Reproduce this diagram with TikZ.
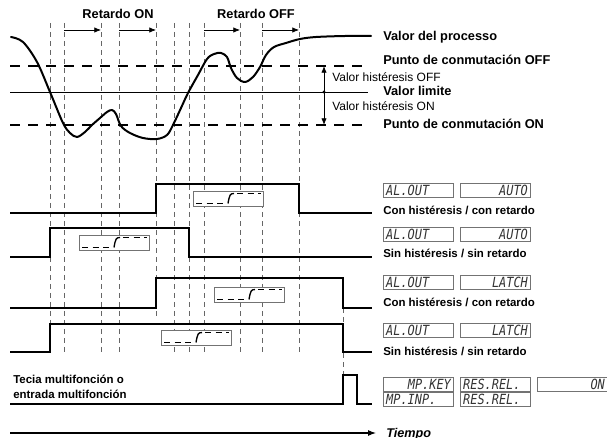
\documentclass[tikz,border=0pt]{standalone}
\usepackage{fontspec}
\setmainfont{Liberation Sans}
\newfontfamily\segfont[FakeStretch=0.85]{DejaVu Sans Mono}
\usetikzlibrary{arrows.meta}
\tikzset{
  vdash/.style={draw=black!60, line width=0.5pt, dash pattern=on 3.75pt off 3pt},
  hdash/.style={line width=0.9pt, dash pattern=on 7.5pt off 6pt},
  sig/.style={line width=1.5pt, line join=miter},
  pcurve/.style={line width=1.5pt, line join=round, line cap=round},
  lab/.style={font=\bfseries\fontsize{9.6}{11}\selectfont, anchor=base west, inner sep=0pt},
  hys/.style={font=\fontsize{9}{11}\selectfont, anchor=base west, inner sep=0pt},
  siglab/.style={font=\bfseries\fontsize{8.6}{10}\selectfont, anchor=base west, inner sep=0pt},
  retlab/.style={font=\bfseries\fontsize{9.6}{11}\selectfont, anchor=base, inner sep=0pt},
  disp/.style={draw=black!55, line width=0.8pt, fill=white, anchor=north west,
    minimum height=10.3pt, inner xsep=2pt, inner ysep=0pt, text width=48.5pt,
    font=\segfont\itshape\fontsize{10.5}{10.5}\selectfont, text=black!80},
  retarrow/.style={line width=0.5pt, -{Latex[length=5pt,width=4pt]}},
  relay/.pic={
    \draw[fill=white, draw=black!55, line width=0.6pt] (0,0) rectangle (70,15);
    \draw[line width=1.1pt, dash pattern=on 4.5pt off 3.5pt] (3,12.5) -- (34,12.5);
    \draw[line width=1pt] (35,12.5) .. controls (36.5,4) and (37,2.5) .. (41,2.5);
    \draw[line width=1.1pt, dash pattern=on 4.5pt off 3.5pt] (44,2.5) -- (68,2.5);
  }
}
\begin{document}
\begin{tikzpicture}[x=0.75pt,y=-0.75pt]
\useasboundingbox (0,0) rectangle (607,438);

% vertical dashed guide lines
\foreach \x in {50,64,101,119,174,189,204,240,262,299}
  \draw[vdash] (\x,23) -- (\x,352);
\draw[vdash] (156,23) -- (156,318);
\draw[vdash] (343,308) -- (343,375);

% delay arrows
\foreach \a/\b in {64/101,119/156,204/240,262/299}
  \draw[retarrow] (\a,30) -- (\b,30);
\node[retlab] (ron) at (118,19) {Retardo ON};
\node[retlab] (roff) at (256,19) {Retardo OFF};

% thresholds
\draw[hdash] (10,66) -- (365,66);
\draw[line width=0.7pt] (10,92) -- (368,92);
\draw[hdash] (10,125) -- (365,125);

% hysteresis arrows
\coordinate (hoff) at (324,66);
\coordinate (hmid) at (324,92);
\coordinate (hon) at (324,125);
\draw[line width=0.6pt, -{Latex[length=5pt,width=4pt]}] (hmid) -- (hoff);
\draw[line width=0.6pt, -{Latex[length=5pt,width=4pt]}] (hmid) -- (hon);
\fill (hmid) circle (1.6);

% process value curve
\draw[pcurve] plot[smooth, tension=0.55] coordinates {
 (11,37) (23,42) (37,62) (50,92) (63,123) (70,133) (77,137) (85,132) (92,125)
 (100,118) (107,112) (112,110) (116,114) (121,126) (130,133) (143,138) (157,139)
 (167,135) (173,125) (181,108) (188,93) (198,75) (207,59) (214,54) (221,53)
 (227,57) (231,68) (237,78) (245,82) (253,77) (260,67) (266,55) (274,47)
 (286,43) (300,39) (316,37) (345,36) (371,36)};

% right-hand labels
\node[lab] (pv) at (383,41) {Valor del processo};
\node[lab] (poff) at (383,65) {Punto de conmutación OFF};
\node[hys] (hysoff) at (332,82) {Valor histéresis OFF};
\node[lab] (vlim) at (383,96) {Valor limite};
\node[hys] (hyson) at (332,111) {Valor histéresis ON};
\node[lab] (pon) at (383,129) {Punto de conmutación ON};

% output signals
\draw[sig] (10,213) -- (156,213) -- (156,184) -- (299,184) -- (299,213) -- (372,213);
\draw[sig] (10,257) -- (50,257) -- (50,228) -- (189,228) -- (189,257) -- (372,257);
\draw[sig] (10,308) -- (156,308) -- (156,278) -- (343,278) -- (343,308) -- (372,308);
\draw[sig] (10,352) -- (50,352) -- (50,324) -- (343,324) -- (343,352) -- (372,352);
\draw[sig] (10,404) -- (343,404) -- (343,375) -- (357,375) -- (357,404) -- (372,404);

% relay symbols
\pic at (193,191) {relay};
\pic at (79,235) {relay};
\pic at (214,287) {relay};
\pic at (161,330) {relay};

% displays
\node[disp, align=left]  (d1a) at (383,183) {AL.OUT};
\node[disp, align=right] (d1b) at (460,183) {AUTO};
\node[siglab] (l1) at (383,215) {Con histéresis / con retardo};
\node[disp, align=left]  (d2a) at (383,227) {AL.OUT};
\node[disp, align=right] (d2b) at (460,227) {AUTO};
\node[siglab] (l2) at (383,258) {Sin histéresis / sin retardo};
\node[disp, align=left]  (d3a) at (383,275) {AL.OUT};
\node[disp, align=right] (d3b) at (460,275) {LATCH};
\node[siglab] (l3) at (383,307) {Con histéresis / con retardo};
\node[disp, align=left]  (d4a) at (383,323) {AL.OUT};
\node[disp, align=right] (d4b) at (460,323) {LATCH};
\node[siglab] (l4) at (383,355) {Sin histéresis / sin retardo};
\node[disp, align=right] (d5a) at (383,377) {MP.KEY};
\node[disp, align=left]  (d5b) at (460,377) {RES.REL.};
\node[disp, align=right] (d5c) at (537,377) {ON};
\node[disp, align=left]  (d6a) at (383,392) {MP.INP.};
\node[disp, align=left]  (d6b) at (460,392) {RES.REL.};

% multifunction label
\node[siglab, align=left, anchor=base west] (mf1) at (13,383) {Tecia multifonción o};
\node[siglab, align=left, anchor=base west] (mf2) at (13,398) {entrada multifonción};

% time axis
\coordinate (t0) at (10,433);
\coordinate (t1) at (376,433);
\draw[line width=0.8pt, -{Latex[length=6pt,width=4.5pt]}] (t0) -- (t1);
\node[font=\bfseries\itshape\fontsize{9.5}{11}\selectfont, anchor=base west, inner sep=0pt] (tiempo) at (386,437) {Tiempo};
\end{tikzpicture}
\end{document}
